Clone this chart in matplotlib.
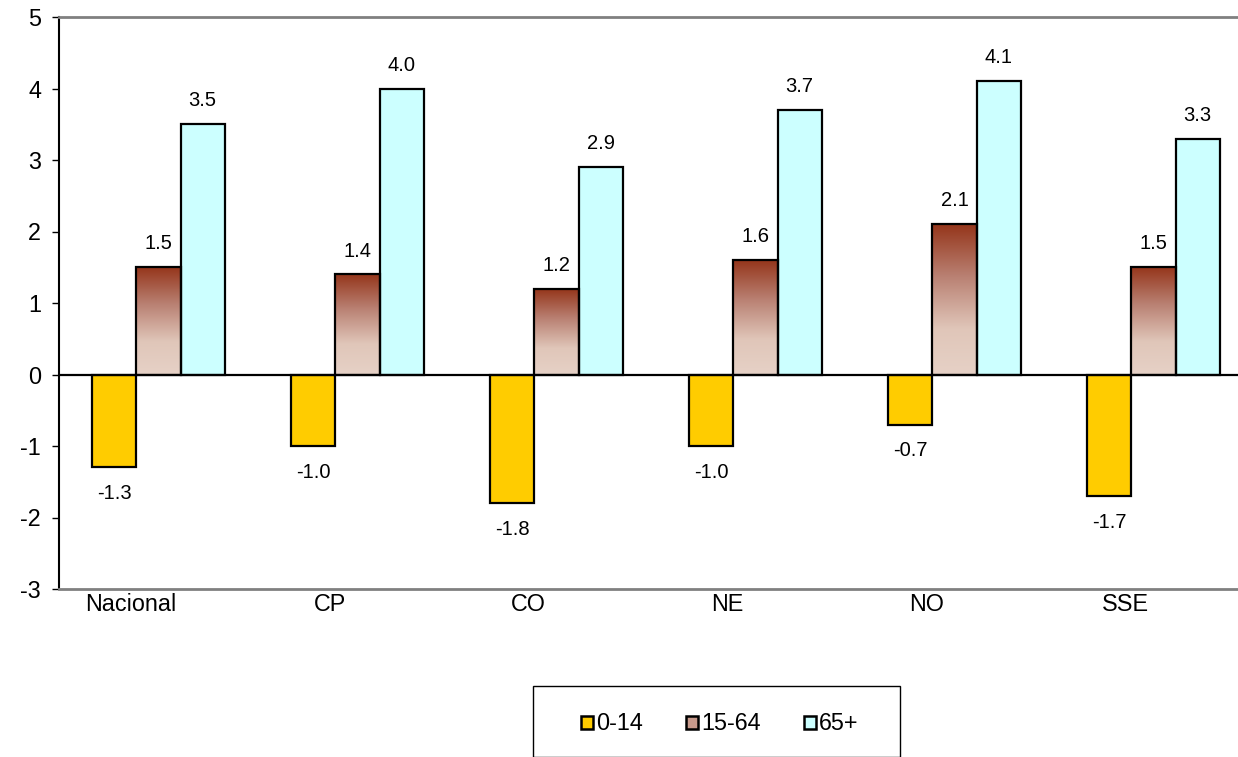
import numpy as np
import matplotlib.pyplot as plt
from matplotlib.colors import LinearSegmentedColormap
from matplotlib.patches import Patch, Rectangle

plt.rcParams['font.family'] = ['Liberation Sans', 'DejaVu Sans']
plt.rcParams['axes.unicode_minus'] = False

# datos
regiones = ['Nacional', 'CP', 'CO', 'NE', 'NO', 'SSE']
grupos = ['0-14', '15-64', '65+']
g_0_14 = [-1.3, -1.0, -1.8, -1.0, -0.7, -1.7]
g_15_64 = [1.5, 1.4, 1.2, 1.6, 2.1, 1.5]
g_65 = [3.5, 4.0, 2.9, 3.7, 4.1, 3.3]

fig = plt.figure(figsize=(12.38, 7.57), dpi=100)
W, H = 1238, 757
# el area del grafico se sale un poco por la derecha, como en el original
ax = fig.add_axes([59 / W, 1 - 589 / H, (1253 - 59) / W, (589 - 17) / H])

x = np.arange(len(regiones))
w = 0.222
fs = 16.8
fs_val = 14.5

# degradado para 15-64
cmap = LinearSegmentedColormap.from_list(
    'rojo', [(0.0, '#E6D1C6'), (0.3, '#E0C6B9'), (0.65, '#B98072'), (1.0, '#943419')])
grad = np.linspace(0, 1, 256).reshape(-1, 1)

b1 = ax.bar(x - w, g_0_14, w, color='#FFCC00', edgecolor='black', linewidth=1.6, zorder=3)
b2 = ax.bar(x, g_15_64, w, facecolor='none', edgecolor='black', linewidth=1.6, zorder=4)
b3 = ax.bar(x + w, g_65, w, color='#CCFFFF', edgecolor='black', linewidth=1.6, zorder=3)

for r in b2:
    x0, y0 = r.get_x(), r.get_y()
    im = ax.imshow(grad, cmap=cmap, origin='lower', aspect='auto',
                   extent=[x0, x0 + r.get_width(), y0, y0 + r.get_height()], zorder=2)
    im.set_clip_path(r)

# etiquetas de valores
for bars, vals in [(b1, g_0_14), (b2, g_15_64), (b3, g_65)]:
    for r, v in zip(bars, vals):
        cx = r.get_x() + r.get_width() / 2
        if v >= 0:
            ax.annotate(f'{v:.1f}', (cx, v), xytext=(0, 10), textcoords='offset points',
                        ha='center', va='bottom', fontsize=fs_val)
        else:
            ax.annotate(f'{v:.1f}', (cx, v), xytext=(0, -12), textcoords='offset points',
                        ha='center', va='top', fontsize=fs_val)

ax.axhline(0, color='black', linewidth=1.6, zorder=5)
ax.set_xlim(-0.5, 5.5)
ax.set_ylim(-3, 5)
ax.set_yticks(range(-3, 6))
ax.tick_params(axis='y', labelsize=fs, direction='out', length=5, width=1, pad=8)
ax.set_xticks(x - 0.14)
ax.set_xticklabels(regiones)
ax.tick_params(axis='x', length=0, labelsize=fs, pad=3)

ax.spines['right'].set_visible(False)
ax.spines['top'].set_color('#808080')
ax.spines['top'].set_linewidth(2)
ax.spines['bottom'].set_color('#808080')
ax.spines['bottom'].set_linewidth(2)
ax.spines['left'].set_color('black')
ax.spines['left'].set_linewidth(1.5)

# leyenda
fig.patches.append(Rectangle((533 / W, 0), (900 - 533) / W, 1 - 686 / H,
                             transform=fig.transFigure, facecolor='white',
                             edgecolor='black', linewidth=1))
handles = [Patch(facecolor='#FFCC00', edgecolor='black', linewidth=1.8),
           Patch(facecolor='#C89A8C', edgecolor='black', linewidth=1.8),
           Patch(facecolor='#CCFFFF', edgecolor='black', linewidth=1.8)]
fig.legend(handles, grupos, loc='center', bbox_to_anchor=(720 / W, 1 - 724 / H),
           ncol=3, frameon=False, fontsize=fs, handlelength=0.5, handleheight=0.5,
           handletextpad=0.15, columnspacing=1.85)

fig.savefig('out.png', dpi=100)
